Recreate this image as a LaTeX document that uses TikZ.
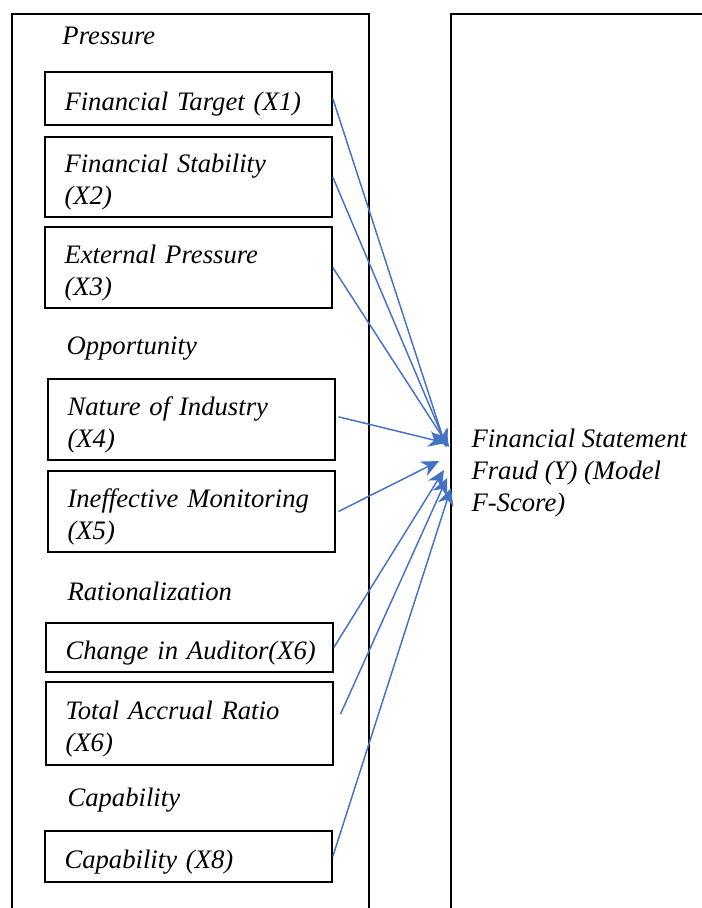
\documentclass[tikz,border=0pt]{standalone}
\usepackage{fontspec}
\setmainfont{Liberation Serif}
\usetikzlibrary{arrows.meta}

\tikzset{every picture/.style={line width=0.75pt}}
\tikzset{
  varbox/.style={draw, line width=1.2pt, rectangle, minimum width=215.25pt,
    text width=186pt, inner xsep=14.6pt, align=left, font=\fontsize{20}{24}\selectfont\itshape,
    execute at begin node={\rule{0pt}{22pt}}},
  grouplabel/.style={anchor=west, inner sep=0pt, align=left, font=\fontsize{20}{24}\selectfont\itshape},
  frame/.style={line width=1.5pt},
  link/.style={draw={rgb, 255:red, 68; green, 114; blue, 196}, line width=1.1pt,
    -{Stealth[length=13pt,width=12pt,inset=4pt]}},
}

\begin{document}
\begin{tikzpicture}[x=0.75pt,y=0.75pt,yscale=-1,xscale=1]
	\useasboundingbox (0,0) rectangle (701,908);

	%Shape: Rectangle (left frame, open at the bottom)
	\draw [frame] (12,912) -- (12,14) -- (369,14) -- (369,912) ;
	%Shape: Rectangle (right frame)
	\draw [frame] (451,912) -- (451,14) -- (705,14) ;

	% Group labels
	\node [grouplabel] (pressure) at (62,36) {Pressure};
	\node [grouplabel] (opportunity) at (66,349) {Opportunity};
	\node [grouplabel] (rationalization) at (67,591) {Rationalization};
	\node [grouplabel] (capability) at (67,800) {Capability};

	% Variable boxes
	\node [varbox, minimum height=39.75pt] (x1) at (188.5,98.5) {Financial Target (X1)};
	\node [varbox, minimum height=60pt] (x2) at (188.5,177) {Financial Stability\\(X2)};
	\node [varbox, minimum height=60.75pt] (x3) at (188.5,267.5) {External Pressure\\(X3)};
	\node [varbox, minimum height=60.75pt] (x4) at (191.5,419.5) {Nature of Industry\\(X4)};
	\node [varbox, minimum height=60.75pt] (x5) at (191.5,511.5) {Ineffective Monitoring\\(X5)};
	\node [varbox, minimum height=36.75pt] (x6) at (189.5,647.5) {\mbox{Change in Auditor(X6)}};
	\node [varbox, minimum height=62.25pt] (x7) at (189.5,723.5) {Total Accrual Ratio\\(X6)};
	\node [varbox, minimum height=38.25pt] (x8) at (188.5,856.5) {Capability (X8)};

	% Text Node
	\node [grouplabel] (fraud) at (471,473) {Financial Statement\\Fraud (Y) (Model\\F-Score)};

	% Arrow tips
	\coordinate (t1) at (446,447);
	\coordinate (t2) at (447,447);
	\coordinate (t3) at (449,447);
	\coordinate (t4) at (446,443);
	\coordinate (t5) at (439,461);
	\coordinate (t6) at (444,470);
	\coordinate (t7) at (447,478);
	\coordinate (t8) at (451,488);

	%Straight Lines
	\draw [link] (x1.east) -- (t1) ;
	\draw [link] (x2.east) -- (t2) ;
	\draw [link] (x3.east) -- (t3) ;
	\draw [link] ([xshift=2pt,yshift=-2pt]x4.east) -- (t4) ;
	\draw [link] ([xshift=2pt]x5.east) -- (t5) ;
	\draw [link] (x6.east) -- (t6) ;
	\draw [link] ([xshift=5pt,yshift=-7pt]x7.east) -- (t7) ;
	\draw [link] (x8.east) -- (t8) ;

\end{tikzpicture}
\end{document}
